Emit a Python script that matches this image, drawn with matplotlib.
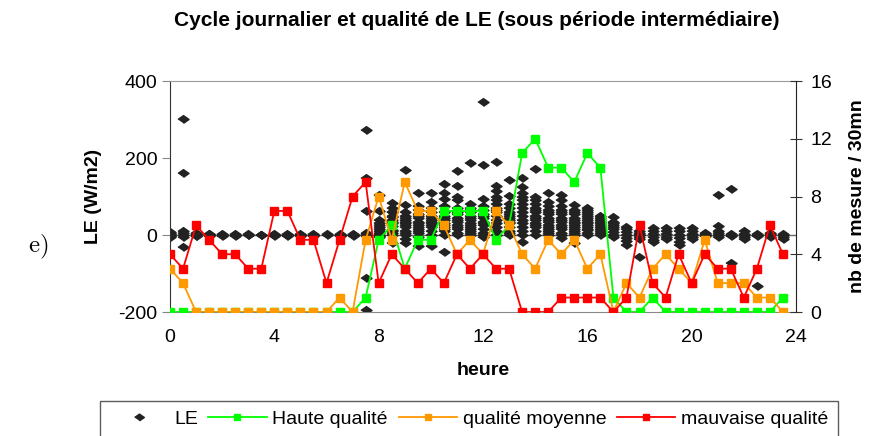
import numpy as np
import matplotlib
matplotlib.use("Agg")
import matplotlib.pyplot as plt
from matplotlib.lines import Line2D

plt.rcParams['font.family'] = ['Liberation Sans', 'DejaVu Sans']
plt.rcParams['mathtext.fontset'] = 'cm'
plt.rcParams['axes.unicode_minus'] = False

# half-hourly time steps
hours = np.arange(48) * 0.5

# number of measurements per 30 min, by quality class
haute = [0, 0, 0, 0, 0, 0, 0, 0, 0, 0, 0, 0, 0, 0, 0, 1,
         5, 6, 3, 5, 5, 7, 7, 7, 7, 5, 6, 11, 12, 10, 10, 9,
         11, 10, 1, 0, 0, 1, 0, 0, 0, 0, 0, 0, 0, 0, 0, 1]
moyenne = [3, 2, 0, 0, 0, 0, 0, 0, 0, 0, 0, 0, 0, 1, 0, 5,
           8, 5, 9, 7, 7, 6, 4, 5, 4, 7, 6, 4, 3, 5, 4, 5,
           3, 4, 0, 2, 1, 3, 4, 3, 2, 5, 2, 2, 2, 1, 1, 0]
mauvaise = [4, 3, 6, 5, 4, 4, 3, 3, 7, 7, 5, 5, 2, 5, 8, 9,
            2, 4, 3, 2, 3, 2, 4, 3, 4, 3, 3, 0, 0, 0, 1, 1,
            1, 1, 0, 1, 6, 2, 1, 4, 2, 4, 3, 3, 1, 3, 6, 4]

# LE values (W/m2) observed at each half hour
le_values = [
    [0, 5, -3, 2, 8, -5, 0],
    [301, 162, 10, 0, -5, 5, -31],
    [0, 5, -3, 3, 2, -2],
    [0, 3, -2, 2, 0],
    [0, 2, -2, 0],
    [0, 2, -2, 0],
    [0, 2, -1],
    [0, 1, -1],
    [0, 2, -2, 1, 0, -1, 0],
    [0, 2, -2, 1, 0, -1, 0],
    [0, 2, -2, 1, 0],
    [0, 2, -2, 1, 0],
    [0, 2],
    [0, 2, -2, 1, 0, 1],
    [0, 2, -2, 1, 0, -1, 1, 0],
    [273, 148, 62, 0, -112, -195, 2, -3, 5, 0],
    [105, 62, 40, 30, 20, 10, 5, 0, -5, 0, 15, 25, -3],
    [83, 71, 59, 47, 35, 23, 13, 5, 0, -21, 30, 40, 60, 50, 10],
    [170, 78, 60, 50, 40, 30, 20, 10, 5, 0, -10, -21, 45, 35, 25],
    [110, 75, 65, 55, 45, 35, 25, 15, 10, 5, -4, -28, 50, 30, 20],
    [108, 87, 70, 60, 50, 40, 30, 20, 10, 0, -28, 45, 35, 25],
    [133, 110, 93, 75, 60, 50, 40, 30, 20, 10, 0, -45, 45, 25, 15],
    [166, 128, 100, 90, 70, 55, 45, 35, 25, 15, 5, 0, 60, 40, 20],
    [187, 80, 70, 60, 50, 40, 30, 20, 10, 0, 65, 45, 25, 15, 5],
    [346, 182, 93, 75, 65, 55, 45, 35, 25, 15, 5, 0, -5, 50, 30],
    [190, 128, 115, 100, 90, 80, 70, 60, 50, 40, 30, 20, 10, 0, 65],
    [143, 101, 80, 70, 60, 50, 40, 30, 20, 10, 5, 0, 55, 45, 35],
    [148, 125, 110, 100, 90, 80, 70, 60, 50, 40, 30, 20, 10, 0, -17],
    [172, 100, 90, 80, 70, 60, 50, 40, 30, 20, 10, 0, 65, 45, 25],
    [108, 85, 75, 65, 55, 45, 35, 25, 15, 5, 0, 60, 40, 20, 10],
    [104, 90, 75, 65, 55, 45, 35, 25, 15, 5, -8, 60, 40, 20, 0],
    [78, 65, 55, 45, 35, 25, 15, 5, 0, -20, 60, 40, 20, 10, 30],
    [70, 60, 50, 40, 30, 20, 13, 5, 0, 45, 35, 25, 15, 55, 65],
    [50, 40, 30, 20, 10, 5, 0, 45, 35, 25, 15],
    [48, 35, 25, 15, 8, 0, -5, 20, 30],
    [22, 15, 8, 0, -8, -15, -26],
    [10, 5, 0, -5, -10, -58, 2],
    [18, 10, 3, -5, -12, -17],
    [18, 10, 3, -5, -10],
    [18, 10, 0, -8, -18, -26],
    [18, 10, 3, -5, -10, 0],
    [5, 0, -3, 2, 0],
    [104, 23, 5, 0, -5, 10],
    [120, 0, 3, -3, -73],
    [10, 3, 0, -5, -10],
    [0, 3, -132, -3],
    [5, 0, -5, 3],
    [0, -5, -10, 3],
]

le_x = [h for h, vals in zip(hours, le_values) for _ in vals]
le_y = [v for vals in le_values for v in vals]

diamond = [(-1, 0), (0, 0.7), (1, 0), (0, -0.7)]
GREEN, ORANGE, RED = '#00ff00', '#ff9900', '#ff0000'

fig = plt.figure(figsize=(8.7, 4.36), dpi=100)
ax = fig.add_axes([170/870, 1 - 312/436, 626/870, 231/436])
ax2 = ax.twinx()

ax.axhline(0, color='#666666', lw=1, zorder=1)
ax.plot(le_x, le_y, ls='none', marker=diamond, ms=8, color='#222222', zorder=2)

for vals, col in [(haute, GREEN), (moyenne, ORANGE), (mauvaise, RED)]:
    ax2.plot(hours, vals, color=col, lw=1.3, marker='s', ms=5.5, mec=col, mfc=col)

ax.set_xlim(0, 24)
ax.set_ylim(-200, 400)
ax2.set_ylim(0, 16)
ax.set_xticks(range(0, 25, 4))
ax.set_yticks([-200, 0, 200, 400])
ax2.set_yticks(range(0, 17, 4))

ax.spines['top'].set_color('#999999')
ax.spines['bottom'].set_color('#888888')
ax.spines['left'].set_color('#333333')
ax.spines['right'].set_visible(False)
for s in ['top', 'bottom', 'left']:
    ax2.spines[s].set_visible(False)
ax2.spines['right'].set_color('#222222')

ax.tick_params(axis='x', length=0, pad=12, labelsize=14)
ax.tick_params(axis='y', direction='out', length=6, color='#888888', labelsize=14, pad=3)
ax2.tick_params(axis='y', direction='inout', length=9, color='#333333', labelsize=14, pad=6)

ax.set_xlabel('heure', fontsize=14, fontweight='bold', labelpad=12)
ax.set_ylabel('LE (W/m2)', fontsize=14, fontweight='bold', labelpad=12)
ax2.set_ylabel('nb de mesure / 30mn', fontsize=14, fontweight='bold', labelpad=12)

fig.text(477/870, 1 - 21/436, 'Cycle journalier et qualité de LE (sous période intermédiaire)',
         ha='center', va='center', fontsize=15, fontweight='bold')
fig.text(38/870, 1 - 247/436, r'$\mathrm{e)}$', ha='center', va='center', fontsize=18)

handles = [
    Line2D([], [], ls='none', marker=diamond, ms=7, color='#222222'),
    Line2D([], [], color=GREEN, lw=1.3, marker='s', ms=5),
    Line2D([], [], color=ORANGE, lw=1.3, marker='s', ms=5),
    Line2D([], [], color=RED, lw=1.3, marker='s', ms=5),
]
leg = fig.legend(handles, ['LE', 'Haute qualité', 'qualité moyenne', 'mauvaise qualité'],
                 loc='upper left', bbox_to_anchor=(100/870, 1 - 405/436, 738/870, 0.01),
                 mode='expand', ncol=4,
                 fontsize=14, frameon=True, fancybox=False, edgecolor='#333333',
                 handlelength=3, handletextpad=0.3, columnspacing=0.5, numpoints=1,
                 borderpad=0.5, borderaxespad=0)
leg.get_frame().set_linewidth(1)

fig.savefig('out.png', dpi=100)
